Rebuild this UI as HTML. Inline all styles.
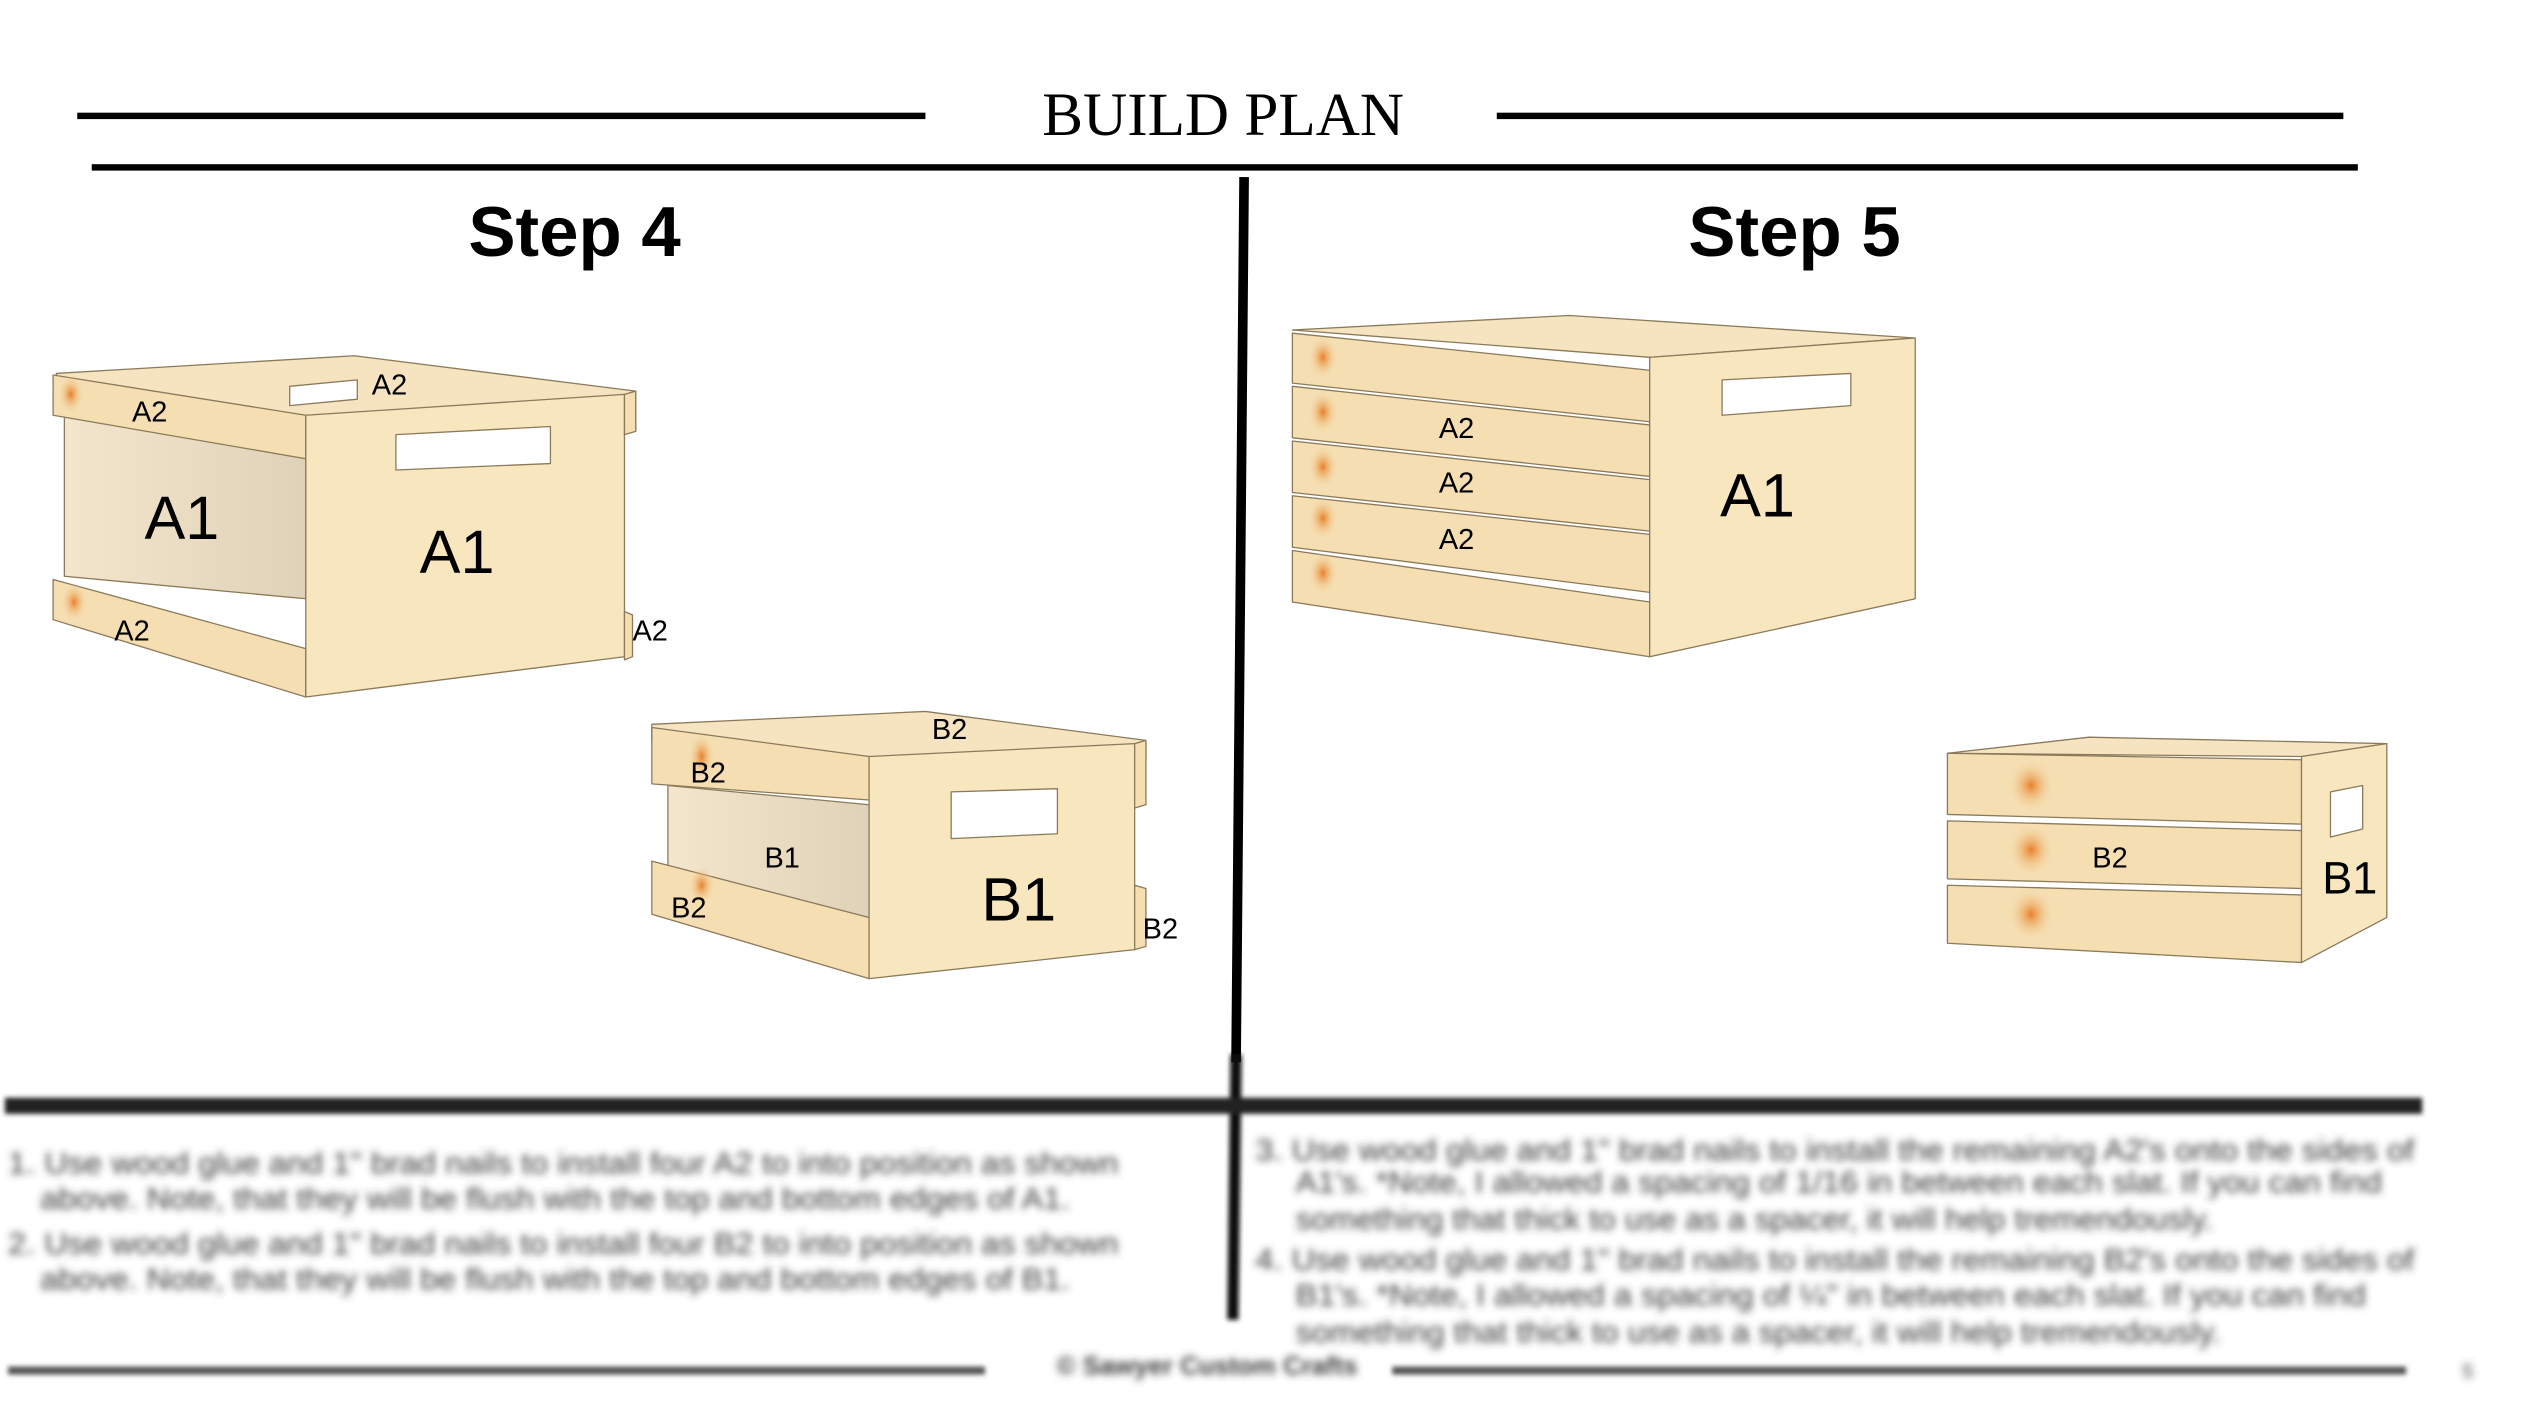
<!DOCTYPE html>
<html><head><meta charset="utf-8"><style>
html,body{margin:0;padding:0;background:#fff;}
svg{display:block;}
</style></head><body>
<svg width="2522" height="1410" viewBox="0 0 1567 876" preserveAspectRatio="none" xmlns="http://www.w3.org/2000/svg">
<defs>
<filter id="bl" x="-5%" y="-50%" width="110%" height="200%"><feGaussianBlur stdDeviation="2.3"/></filter>
<filter id="bl2"><feGaussianBlur stdDeviation="1.5"/></filter>
<linearGradient id="inner" x1="0" x2="1" y1="0" y2="0"><stop offset="0" stop-color="#f3e6cc"/><stop offset="1" stop-color="#e0d2b8"/></linearGradient>
<radialGradient id="knot" cx="0.5" cy="0.5" r="0.5"><stop offset="0" stop-color="#e8802a"/><stop offset="1" stop-color="#f3d9a6" stop-opacity="0"/></radialGradient>
</defs>
<rect width="1567" height="876" fill="#fff"/>
<text x="760" y="84" font-family="Liberation Serif, serif" font-size="38" text-anchor="middle">BUILD PLAN</text>
<rect x="48" y="70" width="527" height="4" fill="#000"/>
<rect x="930" y="70" width="526" height="4" fill="#000"/>
<rect x="57" y="102" width="1408" height="4" fill="#000"/>
<line x1="773" y1="110" x2="768" y2="660" stroke="#000" stroke-width="6"/>
<text x="357" y="159" font-family="Liberation Sans, sans-serif" font-weight="bold" font-size="44" text-anchor="middle">Step 4</text>
<text x="1115" y="159" font-family="Liberation Sans, sans-serif" font-weight="bold" font-size="44" text-anchor="middle">Step 5</text>

<g stroke="#8a7a5a" stroke-width="0.8" stroke-linejoin="round">
<polygon points="35,232 220,221 395,243 395,268 190,258 35,240" fill="#f6e4c0"/>
<polygon points="180,240 222,236 222,248 180,252" fill="#fff"/>
<polygon points="40,258 190,272 190,372 40,358" fill="url(#inner)"/>
<polygon points="33,233 190,258 190,285 33,258" fill="#f5deb2"/>
<polygon points="33,360 190,403 190,433 33,385" fill="#f5deb2"/>
<polygon points="190,258 388,245 388,408 190,433" fill="#f8e6bf"/>
<polygon points="246,270 342,265 342,288 246,292" fill="#fff"/>
<polygon points="388,245 395,243 395,268 388,270" fill="#f5deb2"/>
<polygon points="388,380 393,382 393,408 388,410" fill="#f5deb2"/>
<polygon points="405,450 575,442 712,460 712,472 540,470 405,460" fill="#f6e4c0"/>
<polygon points="415,488 540,500 540,570 415,555" fill="url(#inner)"/>
<polygon points="405,452 540,470 540,497 405,487" fill="#f5deb2"/>
<polygon points="405,535 540,570 540,608 405,568" fill="#f5deb2"/>
<polygon points="540,470 705,462 705,590 540,608" fill="#f8e6bf"/>
<polygon points="591,492 657,490 657,518 591,521" fill="#fff"/>
<polygon points="705,462 712,460 712,500 705,502" fill="#f5deb2"/>
<polygon points="705,550 712,552 712,588 705,590" fill="#f5deb2"/>
<polygon points="803,205 975,196 1190,210 1025,222" fill="#f6e4c0"/>
<polygon points="803,207 1025,230 1025,262 803,238" fill="#f5deb2"/>
<polygon points="803,240 1025,264 1025,296 803,272" fill="#f5deb2"/>
<polygon points="803,274 1025,298 1025,330 803,306" fill="#f5deb2"/>
<polygon points="803,308 1025,332 1025,368 803,340" fill="#f5deb2"/>
<polygon points="803,342 1025,374 1025,408 803,374" fill="#f5deb2"/>
<polygon points="1025,222 1190,210 1190,372 1025,408" fill="#f8e6bf"/>
<polygon points="1070,236 1150,232 1150,252 1070,258" fill="#fff"/>
<polygon points="1210,468 1298,458 1483,462 1430,470" fill="#f6e4c0"/>
<polygon points="1210,468 1430,472 1430,512 1210,506" fill="#f5deb2"/>
<polygon points="1210,510 1430,516 1430,552 1210,546" fill="#f5deb2"/>
<polygon points="1210,550 1430,556 1430,598 1210,586" fill="#f5deb2"/>
<polygon points="1430,470 1483,462 1483,570 1430,598" fill="#f8e6bf"/>
<polygon points="1448,492 1468,488 1468,515 1448,520" fill="#fff"/>
</g>
<g fill="url(#knot)">
<ellipse cx="44" cy="245" rx="8" ry="12"/><ellipse cx="46" cy="374" rx="8" ry="12"/>
<ellipse cx="436" cy="470" rx="8" ry="14"/><ellipse cx="436" cy="550" rx="8" ry="12"/>
<ellipse cx="822" cy="222" rx="9" ry="13"/><ellipse cx="822" cy="256" rx="9" ry="13"/><ellipse cx="822" cy="290" rx="9" ry="13"/><ellipse cx="822" cy="322" rx="9" ry="13"/><ellipse cx="822" cy="356" rx="9" ry="13"/>
<ellipse cx="1262" cy="488" rx="14" ry="16"/><ellipse cx="1262" cy="528" rx="14" ry="16"/><ellipse cx="1262" cy="568" rx="14" ry="16"/>
</g>
<g font-family="Liberation Sans, sans-serif" font-size="18" fill="#000" text-anchor="middle">
<text x="93" y="262">A2</text><text x="242" y="245">A2</text><text x="82" y="398">A2</text><text x="404" y="398">A2</text>
<text x="440" y="486">B2</text><text x="590" y="459">B2</text><text x="428" y="570">B2</text><text x="721" y="583">B2</text><text x="486" y="539">B1</text>
<text x="905" y="272">A2</text><text x="905" y="306">A2</text><text x="905" y="341">A2</text>
<text x="1311" y="539">B2</text>
</g>
<g font-family="Liberation Sans, sans-serif" font-size="38" fill="#000" text-anchor="middle">
<text x="113" y="335">A1</text><text x="284" y="356">A1</text><text x="633" y="572">B1</text><text x="1092" y="321">A1</text>
</g>
<text x="1460" y="555" font-family="Liberation Sans, sans-serif" font-size="28" text-anchor="middle">B1</text>

<g filter="url(#bl2)">
<line x1="768" y1="655" x2="766" y2="820" stroke="#111" stroke-width="7"/>
<rect x="3" y="682" width="1502" height="10" fill="#222"/>
<rect x="5" y="849" width="607" height="5" fill="#555"/>
<rect x="865" y="849" width="630" height="5" fill="#555"/>
</g>
<g filter="url(#bl)" font-family="Liberation Sans, sans-serif" font-size="19" fill="#3a3a3a" lengthAdjust="spacingAndGlyphs">
<text x="5" y="729" textLength="690" lengthAdjust="spacingAndGlyphs">1.   Use wood glue and 1" brad nails to install four A2 to into position as shown</text>
<text x="25" y="751" textLength="640" lengthAdjust="spacingAndGlyphs">above. Note, that they will be flush with the top and bottom edges of A1.</text>
<text x="5" y="779" textLength="690" lengthAdjust="spacingAndGlyphs">2.   Use wood glue and 1" brad nails to install four B2 to into position as shown</text>
<text x="25" y="801" textLength="640" lengthAdjust="spacingAndGlyphs">above. Note, that they will be flush with the top and bottom edges of B1.</text>
<text x="780" y="721" textLength="720" lengthAdjust="spacingAndGlyphs">3.   Use wood glue and 1" brad nails to install the remaining A2's onto the sides of</text>
<text x="805" y="741" textLength="675" lengthAdjust="spacingAndGlyphs">A1's. *Note, I allowed a spacing of 1/16 in between each slat. If you can find</text>
<text x="805" y="764" textLength="570" lengthAdjust="spacingAndGlyphs">something that thick to use as a spacer, it will help tremendously.</text>
<text x="780" y="789" textLength="720" lengthAdjust="spacingAndGlyphs">4.   Use wood glue and 1" brad nails to install the remaining B2's onto the sides of</text>
<text x="805" y="811" textLength="665" lengthAdjust="spacingAndGlyphs">B1's. *Note, I allowed a spacing of ¼" in between each slat. If you can find</text>
<text x="805" y="834" textLength="575" lengthAdjust="spacingAndGlyphs">something that thick to use as a spacer, it will help tremendously.</text>
<text x="750" y="854" text-anchor="middle" font-weight="bold" font-size="16">© Sawyer Custom Crafts</text>
<text x="1530" y="856" font-size="12">5</text>
</g>
</svg>
</body></html>
